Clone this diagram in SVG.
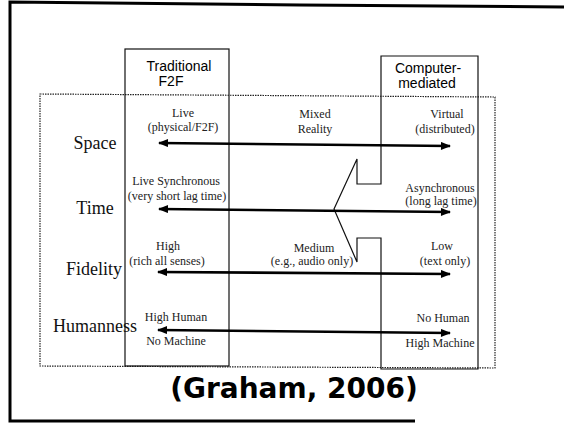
<svg xmlns="http://www.w3.org/2000/svg" width="564" height="423" viewBox="0 0 564 423">
  <style>
    .frame { fill: none; stroke: #000; stroke-width: 3; }
    .mainbox { fill: none; stroke: #222; stroke-width: 1.2; stroke-dasharray: 1.5 1; }
    .col { fill: none; stroke: #111; stroke-width: 1.2; }
    .hdr { font-family: "Liberation Sans", Arial, sans-serif; font-size: 14px; fill: #000; text-anchor: middle; }
    .row { font-family: "Liberation Serif", "Times New Roman", serif; font-size: 18px; fill: #111; text-anchor: middle; }
    .lbl { font-family: "Liberation Serif", "Times New Roman", serif; font-size: 12px; fill: #222; text-anchor: middle; }
    .arrow { fill: none; stroke: #000; stroke-width: 2.6; marker-start: url(#ah); marker-end: url(#ah); }
    .cite { font-family: "DejaVu Sans", Verdana, sans-serif; font-weight: bold; font-size: 28px; fill: #000; text-anchor: middle; }
  </style>
  <defs>
    <marker id="ah" viewBox="0 0 10 8" refX="9" refY="4" markerWidth="11" markerHeight="8" markerUnits="userSpaceOnUse" orient="auto-start-reverse">
      <path d="M0,0 L10,4 L0,8 Z" fill="#000"/>
    </marker>
  </defs>
  <rect width="564" height="423" fill="#fff"/>

  <g id="frame">
    <polyline class="frame" points="564,7 300,5 10,2 10,421 415,421"/>
  </g>

  <g id="main-box">
    <polygon class="mainbox" points="40,94 495,97 495,368 40,366"/>
  </g>

  <g id="col-traditional">
    <rect class="col" x="125" y="49" width="104" height="317"/>
    <text class="hdr" x="179" y="71">Traditional</text>
    <text class="hdr" x="171" y="86">F2F</text>
  </g>

  <g id="col-computer">
    <polygon class="col" points="381,56 478,56 478,369 381,369 381,238 357,238 357,262 334,209 357,159 357,184 381,184"/>
    <text class="hdr" x="428" y="73">Computer-</text>
    <text class="hdr" x="427" y="88">mediated</text>
  </g>

  <g id="connectors">
    <line class="arrow" x1="159" y1="143" x2="450" y2="146"/>
    <line class="arrow" x1="159" y1="209" x2="450" y2="212"/>
    <line class="arrow" x1="158" y1="272" x2="450" y2="274"/>
    <line class="arrow" x1="158" y1="330" x2="450" y2="333"/>
  </g>

  <g id="row-space">
    <text class="row" x="95" y="149">Space</text>
    <text class="lbl" x="183" y="117">Live</text>
    <text class="lbl" x="183" y="131">(physical/F2F)</text>
    <text class="lbl" x="315" y="118">Mixed</text>
    <text class="lbl" x="315" y="133">Reality</text>
    <text class="lbl" x="447" y="118">Virtual</text>
    <text class="lbl" x="445" y="133">(distributed)</text>
  </g>

  <g id="row-time">
    <text class="row" x="95" y="214">Time</text>
    <text class="lbl" x="176" y="185">Live Synchronous</text>
    <text class="lbl" x="177" y="200">(very short lag time)</text>
    <text class="lbl" x="440" y="192">Asynchronous</text>
    <text class="lbl" x="441" y="205">(long lag time)</text>
  </g>

  <g id="row-fidelity">
    <text class="row" x="94" y="275">Fidelity</text>
    <text class="lbl" x="168" y="250">High</text>
    <text class="lbl" x="167" y="265">(rich all senses)</text>
    <text class="lbl" x="314" y="252">Medium</text>
    <text class="lbl" x="312" y="265">(e.g., audio only)</text>
    <text class="lbl" x="442" y="250">Low</text>
    <text class="lbl" x="445" y="265">(text only)</text>
  </g>

  <g id="row-humanness">
    <text class="row" x="95" y="332">Humanness</text>
    <text class="lbl" x="176" y="321">High Human</text>
    <text class="lbl" x="176" y="345">No Machine</text>
    <text class="lbl" x="443" y="322">No Human</text>
    <text class="lbl" x="440" y="347">High Machine</text>
  </g>

  <g id="citation">
    <text class="cite" x="294" y="398">(Graham, 2006)</text>
  </g>
</svg>
